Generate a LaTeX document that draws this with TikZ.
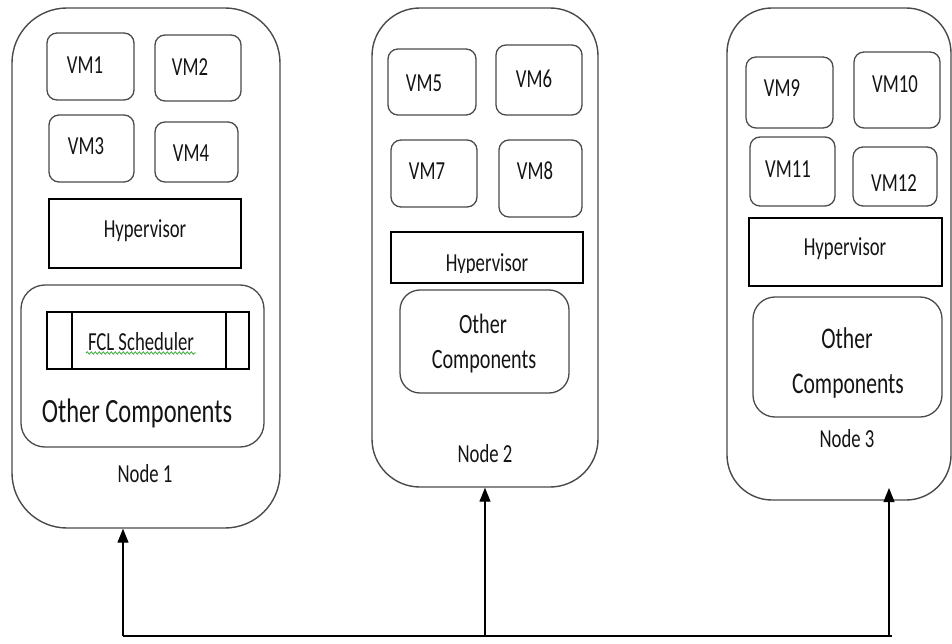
\documentclass[tikz,border=0pt]{standalone}
\usepackage{fontspec}
\usepackage{graphicx}
\setmainfont{Carlito}
\usetikzlibrary{arrows.meta,decorations.pathmorphing}

\definecolor{edge}{HTML}{4A4A4A}
\definecolor{ink}{HTML}{141414}
\definecolor{spell}{HTML}{3DA63D}

% box from its corners (in px): name, style, x1, y1, x2, y2, corner radius
\newcommand\bx[7]{%
  \pgfmathsetmacro\bxw{(#5-#3)/0.72}%
  \pgfmathsetmacro\bxh{#6-#4}%
  \node[#2, rounded corners=#7, minimum width=\bxw pt, minimum height=\bxh pt]
    (#1) at ({(#3+#5)/2},{(#4+#6)/2}) {};}
% text placed on its baseline: name, x, baseline y, size, text
\newcommand\tx[5]{%
  \node[txt, font=\fontsize{#4}{#4}\selectfont] (#1) at (#2,#3) {#5};}

\begin{document}
\begin{tikzpicture}[x=1.388889pt, y=-1pt, xscale=0.72, transform shape,
  outer/.style={draw=edge, line width=1.4pt, inner sep=0pt},
  vmbox/.style={draw=edge, line width=1.3pt, inner sep=0pt},
  hypbox/.style={draw=black, line width=1.3pt, inner sep=0pt},
  txt/.style={text=ink, inner sep=0pt, anchor=base},
  wire/.style={draw=black, line width=1.2pt},
  tip/.style={-{Triangle[length=14pt,width=11pt]}}]
\useasboundingbox (0,0) rectangle (952,644);

% ---------- Node 1 ----------
\bx{n1}{outer}{12}{8}{280}{528}{55pt}
\bx{vm1}{vmbox}{47}{33}{134}{100}{10pt}
\bx{vm2}{vmbox}{155}{35}{241}{101}{10pt}
\bx{vm3}{vmbox}{49}{115}{134}{182}{10pt}
\bx{vm4}{vmbox}{155}{122}{238}{182}{10pt}
\bx{hyp1}{hypbox}{49}{199}{241}{268}{0pt}
\bx{oc1}{vmbox}{21}{285}{264}{447}{24pt}
\bx{fcl}{hypbox}{47}{312}{249}{369}{0pt}
\draw[hypbox] (72,312) -- (72,369) (226,312) -- (226,369);
\tx{vm1t}{85}{74}{26}{VM1}
\tx{vm2t}{190}{76}{26}{VM2}
\tx{vm3t}{86}{155}{26}{VM3}
\tx{vm4t}{191}{162}{26}{VM4}
\tx{hyp1t}{145}{238}{26}{Hypervisor}
\tx{fclt}{141}{350}{26}{FCL Scheduler}
\draw[spell, line width=0.8pt, decorate,
  decoration={snake, amplitude=1.2pt, segment length=4pt}] (86,353) -- (196,353);
\tx{oc1t}{137}{422}{34}{Other Components}
\tx{n1t}{145}{482}{26}{Node 1}

% ---------- Node 2 ----------
\bx{n2}{outer}{372}{8}{598}{487}{48pt}
\bx{vm5}{vmbox}{388}{49}{476}{115}{10pt}
\bx{vm6}{vmbox}{496}{45}{582}{115}{10pt}
\bx{vm7}{vmbox}{391}{140}{477}{207}{10pt}
\bx{vm8}{vmbox}{499}{140}{582}{217}{10pt}
\bx{hyp2}{hypbox}{391}{232}{583}{283}{0pt}
\bx{oc2}{vmbox}{400}{290}{569}{393}{20pt}
\tx{vm5t}{424}{92}{26}{VM5}
\tx{vm6t}{534}{88}{26}{VM6}
\tx{vm7t}{427}{180}{26}{VM7}
\tx{vm8t}{535}{180}{26}{VM8}
% the label of this hypervisor is cut off just below its baseline
\begin{scope}
  \clip (392,234) rectangle (582,272);
  \tx{hyp2t}{487}{271}{26}{Hypervisor}
\end{scope}
\tx{oc2a}{483}{333}{28}{Other}
\tx{oc2b}{484}{368}{28}{Components}
\tx{n2t}{485}{462}{26}{Node 2}

% ---------- Node 3 ----------
\bx{n3}{outer}{727}{8}{951}{500}{45pt}
\bx{vm9}{vmbox}{746}{57}{833}{128}{10pt}
\bx{vm10}{vmbox}{854}{52}{940}{128}{10pt}
\bx{vm11}{vmbox}{750}{137}{835}{206}{10pt}
\bx{vm12}{vmbox}{853}{147}{937}{206}{10pt}
\bx{hyp3}{hypbox}{749}{218}{942}{286}{0pt}
\bx{oc3}{vmbox}{753}{297}{942}{417}{22pt}
\tx{vm9t}{782}{97}{26}{VM9}
\tx{vm10t}{895}{93}{26}{VM10}
\tx{vm11t}{788}{178}{26}{VM11}
\tx{vm12t}{894}{192}{26}{VM12}
\tx{hyp3t}{845}{255}{26}{Hypervisor}
\tx{oc3a}{847}{348}{30}{Other}
\tx{oc3b}{848}{393}{30}{Components}
\tx{n3t}{847}{447}{26}{Node 3}

% ---------- bus with arrows to each node ----------
\coordinate (b1) at (123,636);
\coordinate (b2) at (485,636);
\coordinate (b3) at (889,636);
\coordinate (t3) at (889,488);
\draw[wire] (b1) -- ([xshift=4pt]b3);
\draw[wire, tip] (b1) -- (b1 |- n1.south);
\draw[wire, tip] (b2) -- (n2.south);
\draw[wire, tip] (b3) -- (t3);
\end{tikzpicture}
\end{document}
